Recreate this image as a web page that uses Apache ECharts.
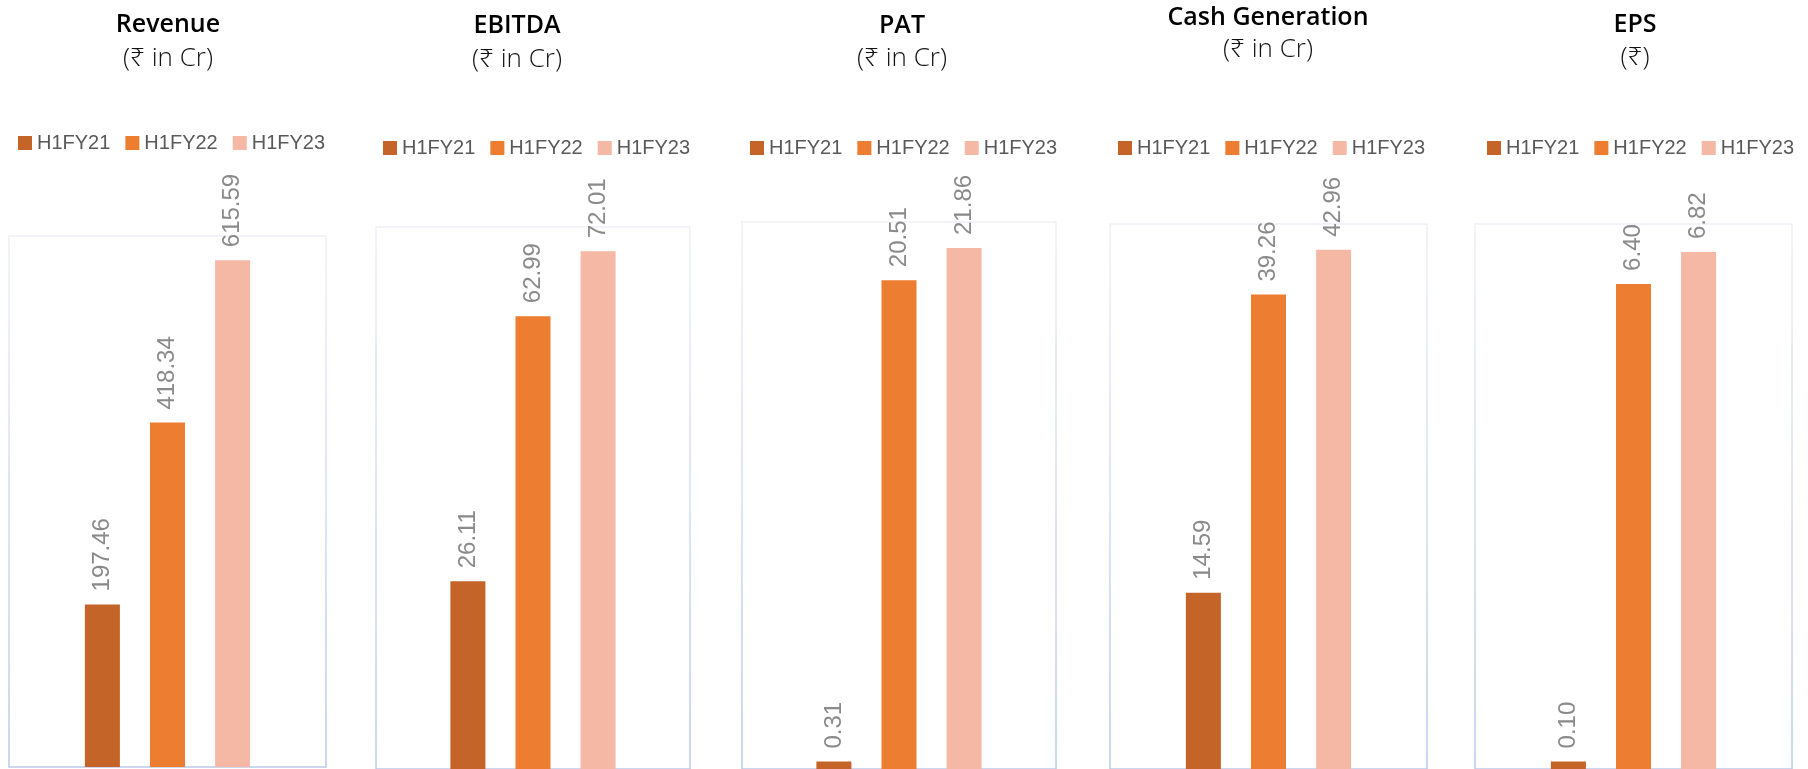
<!DOCTYPE html>
<html>
<head>
<meta charset="utf-8">
<script src="https://cdn.jsdelivr.net/npm/echarts@6/dist/echarts.min.js"></script>
<style>
  html, body { margin: 0; padding: 0; background: #ffffff; }
  #chart { width: 1808px; height: 769px; }
</style>
</head>
<body>
<div id="chart"></div>
<script>
// ---- Data ----
const seriesNames = ['H1FY21', 'H1FY22', 'H1FY23'];
const panelTitles = ['Revenue', 'EBITDA', 'PAT', 'Cash Generation', 'EPS'];
const panelUnits = ['(₹ in Cr)', '(₹ in Cr)', '(₹ in Cr)', '(₹ in Cr)', '(₹)'];
const h1fy21 = [197.46, 26.11, 0.31, 14.59, 0.10];
const h1fy22 = [418.34, 62.99, 20.51, 39.26, 6.40];
const h1fy23 = [615.59, 72.01, 21.86, 42.96, 6.82];
const axisMax = [645, 75.4, 22.95, 45.1, 7.19];

// ---- Layout ----
const W = 1808, H = 769;
const boxLeft = [9, 376, 742, 1110, 1475];
const boxWidth = [317, 314, 314, 317, 317];
const boxTop = [236, 227, 222, 224, 224];
const baseline = [767, 771, 771, 771, 771];
const legendLeft = [18, 383, 750, 1118, 1487];
const legendTop = [133, 138, 138, 138, 138];
const titleX = [168, 517, 902, 1268, 1635];
const titleY1 = [25, 26, 26, 18, 25];
const titleY2 = [59, 60, 59, 50, 58];
const colors = ['#C46428', '#ED7D31', '#F4B8A5'];
const values = [h1fy21, h1fy22, h1fy23];

const grids = [], xAxes = [], yAxes = [], series = [], legends = [], graphics = [];
for (let p = 0; p < 5; p++) {
  grids.push({
    left: boxLeft[p], width: boxWidth[p], top: boxTop[p], bottom: H - baseline[p],
    show: true, backgroundColor: 'transparent', borderWidth: 1.5,
    borderColor: { type: 'linear', x: 0, y: 0, x2: 0, y2: 1,
      colorStops: [{ offset: 0, color: '#eef0f8' }, { offset: 1, color: '#b9cae8' }] }
  });
  xAxes.push({ type: 'category', gridIndex: p, data: [panelTitles[p]], show: false });
  yAxes.push({ type: 'value', gridIndex: p, min: 0, max: axisMax[p], show: false, splitLine: { show: false } });
  for (let s = 0; s < 3; s++) {
    series.push({
      type: 'bar', name: seriesNames[s], xAxisIndex: p, yAxisIndex: p,
      data: [values[s][p]], barWidth: 35, barGap: '86%',
      itemStyle: { color: colors[s] },
      label: {
        show: true, position: 'top', rotate: 90, align: 'left', verticalAlign: 'middle',
        distance: 13, fontSize: 24, color: '#8a8a8a', fontFamily: '"Liberation Sans", Arial, sans-serif',
        formatter: (d) => Number(d.value).toFixed(2)
      },
      silent: true, animation: false
    });
  }
  legends.push({
    data: seriesNames, left: legendLeft[p], top: legendTop[p], padding: 0,
    icon: 'rect', itemWidth: 14, itemHeight: 14, itemGap: 15, selectedMode: false,
    textStyle: { fontSize: 20, color: '#595959', fontFamily: '"Liberation Sans", Arial, sans-serif' }
  });
  graphics.push({
    type: 'text', x: titleX[p], y: titleY1[p], silent: true,
    style: { text: panelTitles[p], fill: '#000', align: 'center', verticalAlign: 'middle',
      font: '600 25px "Open Sans", "Noto Sans", sans-serif' }
  });
  graphics.push({
    type: 'text', x: titleX[p], y: titleY2[p], silent: true,
    style: { text: panelUnits[p], fill: '#111', align: 'center', verticalAlign: 'middle',
      font: '300 26px "Open Sans", "Noto Sans", sans-serif' }
  });
}

const chart = echarts.init(document.getElementById('chart'), null, { renderer: 'canvas' });
chart.setOption({
  backgroundColor: '#ffffff',
  animation: false,
  grid: grids, xAxis: xAxes, yAxis: yAxes, series: series, legend: legends,
  graphic: graphics
});
</script>
</body>
</html>
